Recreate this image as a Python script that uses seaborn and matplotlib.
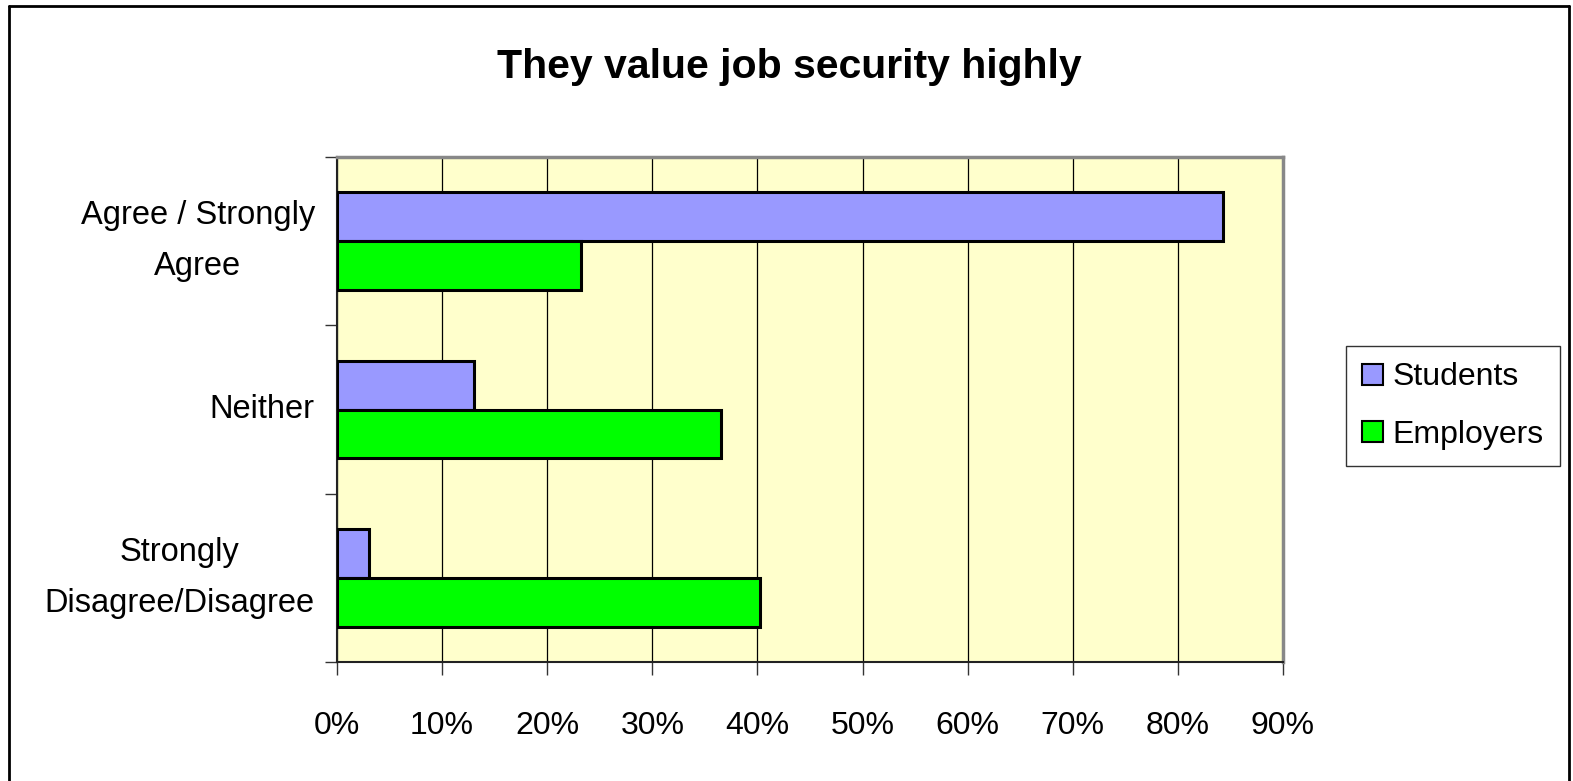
import numpy as np
import pandas as pd
import matplotlib
matplotlib.use("Agg")
import matplotlib.pyplot as plt
import seaborn as sns
from matplotlib.lines import Line2D
from matplotlib.ticker import FixedLocator, PercentFormatter

# data
categories = ["Agree / Strongly\nAgree", "Neither", "Strongly\nDisagree/Disagree"]
students = [84.3, 13.0, 3.0]
employers = [23.2, 36.5, 40.2]
groups = ["Students", "Employers"]
colors = ["#9999FF", "#00FF00"]
x_ticks = [0, 10, 20, 30, 40, 50, 60, 70, 80, 90]

df = pd.DataFrame({
    "category": categories * 2,
    "value": students + employers,
    "group": [groups[0]] * 3 + [groups[1]] * 3,
})

sns.set_style("white")
plt.rcParams["font.family"] = ["Liberation Sans", "DejaVu Sans"]
plt.rcParams["text.color"] = "black"
plt.rcParams["xtick.color"] = "black"
plt.rcParams["ytick.color"] = "black"

fig = plt.figure(figsize=(15.73, 7.81), dpi=100)
ax = fig.add_axes([337 / 1573, 1 - 662 / 781, 946 / 1573, 505 / 781])
ax.set_facecolor("#FFFFCC")

sns.barplot(
    data=df, y="category", x="value", hue="group",
    order=categories, hue_order=groups,
    palette=colors, saturation=1, orient="h",
    width=0.58, edgecolor="black", linewidth=2.2,
    ax=ax, legend=False, zorder=3,
)

ax.set_xlim(0, 90)
ax.set_ylim(2.5, -0.5)
ax.xaxis.set_major_locator(FixedLocator(x_ticks))
ax.xaxis.set_major_formatter(PercentFormatter(decimals=0))
ax.grid(axis="x", color="black", linewidth=0.9, zorder=0)
ax.set_axisbelow(True)
ax.set_xlabel("")
ax.set_ylabel("")

ax.set_yticks([0, 1, 2])
ax.set_yticklabels(categories, fontsize=23.5, linespacing=1.85,
                   multialignment="center", va="center")
ax.set_yticks([-0.5, 0.5, 1.5, 2.5], minor=True)
ax.tick_params(axis="y", which="major", length=0, pad=16)
ax.tick_params(axis="y", which="minor", length=9, width=1, color="#333333", left=True)
ax.tick_params(axis="x", length=9, width=1, color="#333333", labelsize=23, pad=26, bottom=True)

for s in ["top", "right"]:
    ax.spines[s].set_color("#888888")
    ax.spines[s].set_linewidth(2.5)
for s in ["left", "bottom"]:
    ax.spines[s].set_color("#222222")
    ax.spines[s].set_linewidth(1.5)

fig.text(789 / 1573, 1 - 67 / 781, "They value job security highly",
         ha="center", va="center", fontsize=29.5, fontweight="bold")

handles = [plt.Rectangle((0, 0), 1, 1, facecolor=c, edgecolor="black", linewidth=1.5)
           for c in colors]
leg = fig.legend(handles, groups, loc="center", bbox_to_anchor=(1453 / 1573, 1 - 406 / 781),
                 fontsize=23, frameon=True, fancybox=False, edgecolor="black",
                 handlelength=0.65, handleheight=0.65, handletextpad=0.3,
                 labelspacing=0.85, borderpad=0.5)
leg.get_frame().set_linewidth(1)

# outer chart frame (no bottom edge)
fig.add_artist(Line2D([9 / 1573, 9 / 1573], [0, 1 - 6 / 781], color="black", lw=2))
fig.add_artist(Line2D([9 / 1573, 1569 / 1573], [1 - 6 / 781, 1 - 6 / 781], color="black", lw=2))
fig.add_artist(Line2D([1569 / 1573, 1569 / 1573], [0, 1 - 6 / 781], color="black", lw=2))

fig.savefig("out.png", dpi=100)
